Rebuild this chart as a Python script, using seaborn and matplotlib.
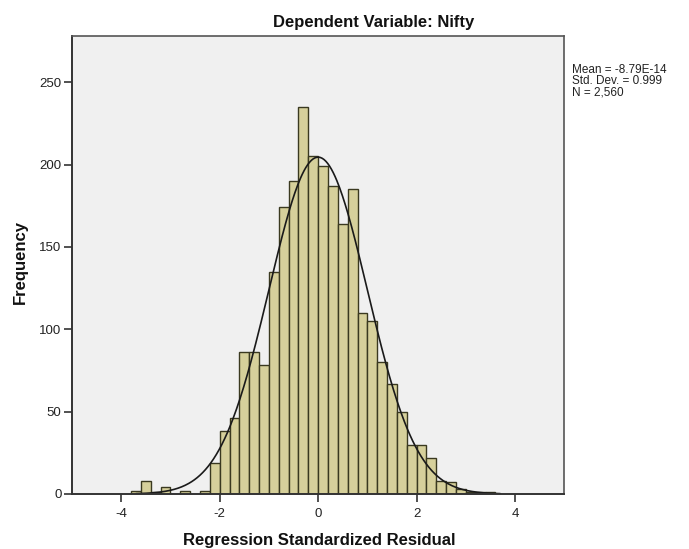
import numpy as np
import pandas as pd
import matplotlib
matplotlib.use("Agg")
import matplotlib.pyplot as plt
import seaborn as sns

# ---- data ----
bin_edges = [-3.8, -3.6, -3.4, -3.2, -3.0, -2.8, -2.6, -2.4, -2.2, -2.0,
             -1.8, -1.6, -1.4, -1.2, -1.0, -0.8, -0.6, -0.4, -0.2, 0.0,
             0.2, 0.4, 0.6, 0.8, 1.0, 1.2, 1.4, 1.6, 1.8, 2.0,
             2.2, 2.4, 2.6, 2.8, 3.0, 3.2, 3.4, 3.6]
counts = [2, 8, 1, 4, 0, 2, 0, 2, 19,
          38, 46, 86, 86, 78, 135, 174, 190, 235, 205, 199,
          187, 164, 185, 110, 105, 80, 67, 50, 30, 30,
          22, 8, 7, 3, 1, 1, 1]
stat_mean = -8.79e-14
stat_sd = 0.999
stat_n = 2560
x_ticks = [-4, -2, 0, 2, 4]
y_ticks = [0, 50, 100, 150, 200, 250]

sns.set_theme(style="white")
plt.rcParams['font.family'] = ['Liberation Sans', 'DejaVu Sans']

centers = [(a + b) / 2 for a, b in zip(bin_edges[:-1], bin_edges[1:])]
df = pd.DataFrame({"resid": centers, "freq": counts})

fig = plt.figure(figsize=(6.89, 5.49), dpi=100)
ax = fig.add_axes([0.1045, 0.1002, 0.7145, 0.8342])
ax.set_facecolor("#f0f0f0")

sns.histplot(data=df, x="resid", weights="freq", bins=bin_edges, ax=ax,
             color="#d6d09b", alpha=1.0, edgecolor="#3a3920", linewidth=1.0)

# fitted normal curve
width = bin_edges[1] - bin_edges[0]
xc = np.linspace(-3.7, 3.7, 400)
yc = stat_n * width * np.exp(-0.5 * ((xc - stat_mean) / stat_sd) ** 2) / (stat_sd * np.sqrt(2 * np.pi))
sns.lineplot(x=xc, y=yc, ax=ax, color="#1a1a1a", linewidth=1.2)

ax.set_xlim(-5, 5)
ax.set_ylim(0, 278)
ax.set_xticks(x_ticks)
ax.set_xticklabels([str(t) for t in x_ticks], fontsize=9.5, color="#222222")
ax.set_yticks(y_ticks)
ax.set_yticklabels([str(t) for t in y_ticks], fontsize=9.5, color="#222222")
ax.tick_params(axis="both", direction="out", length=6, width=1.2, color="#333333",
               bottom=True, left=True, pad=1.5)
ax.tick_params(axis="x", pad=4)
ax.set_xlabel("")
ax.set_ylabel("")

for s in ["left", "bottom"]:
    ax.spines[s].set_color("#333333")
    ax.spines[s].set_linewidth(1.4)
for s in ["right", "top"]:
    ax.spines[s].set_color("#555555")
    ax.spines[s].set_linewidth(1.2)

fig.text(374 / 689, 1 - 22 / 549, "Dependent Variable: Nifty", ha="center", va="center",
         fontsize=12, fontweight="bold", color="#111111")
fig.text(319 / 689, 1 - 540 / 549, "Regression Standardized Residual", ha="center", va="center",
         fontsize=12, fontweight="bold", color="#111111")
fig.text(20 / 689, 1 - 262 / 549, "Frequency", ha="center", va="center", rotation=90,
         fontsize=12, fontweight="bold", color="#111111")

stats_txt = "Mean = -8.79E-14\nStd. Dev. = 0.999\nN = 2,560"
fig.text(572 / 689, 1 - 64 / 549, stats_txt, ha="left", va="top", fontsize=8.5,
         color="#222222", linespacing=0.9)

fig.savefig("out.png", dpi=100, facecolor="white")
